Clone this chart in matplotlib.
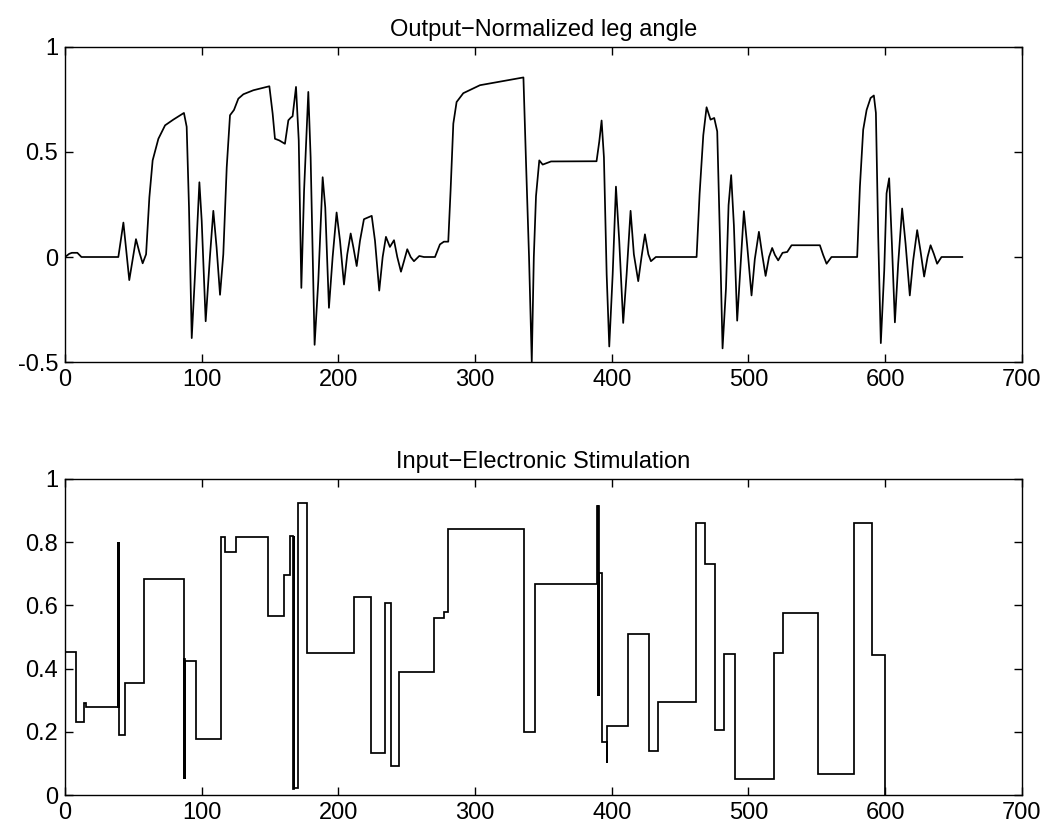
import matplotlib
matplotlib.use("Agg")
import matplotlib.pyplot as plt

# ---------------- data ----------------
# Output: normalized leg angle
angle_t = [0, 3, 5, 9, 12, 39, 41, 42.7, 44.5, 47, 49.5, 51.9, 54.5, 56.8, 59.3, 61.7,
           64.1, 68.3, 73.2, 79.2, 87, 89, 90.7, 92.7, 95.1, 98.3, 100, 102.9, 106,
           108.5, 110.9, 113.4, 115.8, 118.3, 120.7, 123.6, 126.8, 130.5, 137.8, 149.5,
           151.9, 153.6, 156.8, 160.9, 163.4, 165.1, 166.5, 169, 171, 172.9, 174.9, 178,
           179.7, 182.6, 185.3, 188.5, 190.4, 193.1, 195.8, 198.7, 201.2, 204.1, 206.5,
           209, 211, 213.4, 215.8, 218.7, 224.4, 226.8, 229.9, 232.4, 234.8, 237.7,
           240.7, 243.1, 245.8, 248, 250.4, 252.9, 255.3, 259.2, 262.6, 270.7, 274.3,
           277.2, 280.4, 282.1, 284.1, 286.5, 291.4, 303.6, 320.6, 335.4, 337.3, 339.5,
           341.5, 343, 344.6, 347, 349.5, 355.6, 388.9, 390.9, 392.6, 394.3, 396.3,
           398.2, 400.7, 403.1, 405.5, 408.4, 410.9, 413.8, 416.2, 419.4, 421.8, 424.3,
           426.8, 428.7, 432.3, 462.1, 464.3, 467, 469.4, 472.3, 475, 477.2, 479.2,
           481.1, 483.6, 485.5, 487.4, 489.4, 491.8, 494.3, 496.7, 499.1, 502.3, 504.7,
           507.7, 510.2, 512.6, 515.1, 517.4, 519.4, 521.8, 525, 528.4, 531.6, 552.3,
           554.7, 557.2, 560.8, 579.6, 581.6, 584, 586.5, 589.4, 591.8, 593.3, 595,
           596.9, 599.4, 601.1, 603, 605, 607.2, 609.6, 612.5, 615, 618.1, 620.5, 623.5,
           625.9, 628.6, 631.1, 633.3, 635.7, 638.1, 641.3, 656.5]
angle_v = [0, 0.015, 0.02, 0.02, 0, 0, 0.09, 0.164, 0.05, -0.11, -0.01, 0.085, 0.02,
           -0.03, 0.013, 0.284, 0.46, 0.563, 0.627, 0.654, 0.686, 0.62, 0.236, -0.386,
           -0.083, 0.356, 0.172, -0.306, 0, 0.22, 0.045, -0.18, 0.013, 0.427, 0.675,
           0.70, 0.754, 0.775, 0.794, 0.813, 0.683, 0.563, 0.555, 0.539, 0.651, 0.663,
           0.67, 0.81, 0.555, -0.147, 0.316, 0.786, 0.475, -0.418, -0.115, 0.38, 0.236,
           -0.242, 0, 0.212, 0.077, -0.131, 0.013, 0.112, 0.045, -0.043, 0.077, 0.18,
           0.196, 0.077, -0.16, 0, 0.096, 0.048, 0.08, 0, -0.07, -0.02, 0.037, 0, -0.02,
           0.005, 0, 0, 0.06, 0.073, 0.073, 0.316, 0.635, 0.738, 0.78, 0.818, 0.838,
           0.855, 0.45, 0, -0.5, 0, 0.29, 0.46, 0.44, 0.455, 0.456, 0.55, 0.65, 0.475,
           -0.083, -0.426, -0.083, 0.335, 0.077, -0.314, -0.083, 0.22, 0.013, -0.115, 0,
           0.108, 0.013, -0.02, 0, 0, 0.3, 0.58, 0.713, 0.654, 0.662, 0.598, 0.088,
           -0.435, -0.15, 0.247, 0.39, 0.15, -0.303, -0.04, 0.218, 0.056, -0.183, -0.01,
           0.12, 0.008, -0.09, 0, 0.043, 0.01, -0.016, 0.02, 0.024, 0.056, 0.056, 0.01,
           -0.032, 0, 0, 0.335, 0.606, 0.70, 0.757, 0.769, 0.686, 0.096, -0.41, -0.064,
           0.303, 0.375, 0.064, -0.311, -0.032, 0.231, 0.064, -0.183, -0.02, 0.128, 0.03,
           -0.093, 0, 0.056, 0.015, -0.032, 0, 0]

# Input: electronic stimulation (piecewise constant levels between edges)
stim_edges = [0, 8, 14, 15.5, 38.5, 39.0, 39.3, 39.7, 44, 57.6, 86.8, 87.2, 87.5, 87.8,
              95.6, 114, 117, 125, 148.3, 160, 164.4, 167, 167.4, 167.7, 170.5, 176.8,
              211.7, 223.9, 234.2, 238.5, 244, 269.8, 277.3, 280.5, 336, 344.1, 389.3,
              389.7, 390.0, 390.4, 390.8, 393, 396.2, 396.5, 411.7, 427.6, 433.7, 461.7,
              468.3, 475.5, 481.9, 490.4, 518.8, 525.3, 551.1, 577.6, 590.4, 600]
stim_vals = [0.453, 0.23, 0.29, 0.28, 0.80, 0.28, 0.80, 0.19, 0.353, 0.685, 0.05, 0.43,
             0.05, 0.425, 0.177, 0.815, 0.77, 0.815, 0.567, 0.697, 0.818, 0.02, 0.818,
             0.021, 0.925, 0.448, 0.627, 0.133, 0.607, 0.091, 0.388, 0.56, 0.58, 0.843,
             0.198, 0.669, 0.915, 0.314, 0.915, 0.314, 0.703, 0.168, 0.10, 0.219, 0.509,
             0.139, 0.294, 0.862, 0.73, 0.205, 0.445, 0.05, 0.45, 0.575, 0.068, 0.862,
             0.443]

x_ticks = [0, 100, 200, 300, 400, 500, 600, 700]
top_yticks = [-0.5, 0, 0.5, 1]
top_ylabels = ["-0.5", "0", "0.5", "1"]
bot_yticks = [0, 0.2, 0.4, 0.6, 0.8, 1]
bot_ylabels = ["0", "0.2", "0.4", "0.6", "0.8", "1"]
top_title = "Output\u2212Normalized leg angle"
bot_title = "Input\u2212Electronic Stimulation"

# ---------------- figure ----------------
plt.rcParams["font.family"] = ["Liberation Sans", "DejaVu Sans"]
fs = 17

fig = plt.figure(figsize=(10.49, 8.33), dpi=100)
ax1 = fig.add_axes([0.062, 0.5654, 0.912, 0.3782])
ax2 = fig.add_axes([0.062, 0.0456, 0.912, 0.3794])

ax1.plot(angle_t, angle_v, color="black", lw=1.25, solid_joinstyle="round")
ax1.set_xlim(0, 700)
ax1.set_ylim(-0.5, 1)
ax1.set_yticks(top_yticks)
ax1.set_yticklabels(top_ylabels)
ax1.set_title(top_title, fontsize=fs, pad=8)

ax2.stairs(stim_vals, stim_edges, baseline=0, fill=False, color="black", lw=1.25)
ax2.set_xlim(0, 700)
ax2.set_ylim(0, 1)
ax2.set_yticks(bot_yticks)
ax2.set_yticklabels(bot_ylabels)
ax2.set_title(bot_title, fontsize=fs, pad=8)

for ax in (ax1, ax2):
    ax.set_xticks(x_ticks)
    ax.tick_params(direction="in", length=6, width=1, top=True, right=True,
                   labelsize=fs, pad=5)
    for s in ax.spines.values():
        s.set_linewidth(1.0)

fig.savefig("out.png", dpi=100)
